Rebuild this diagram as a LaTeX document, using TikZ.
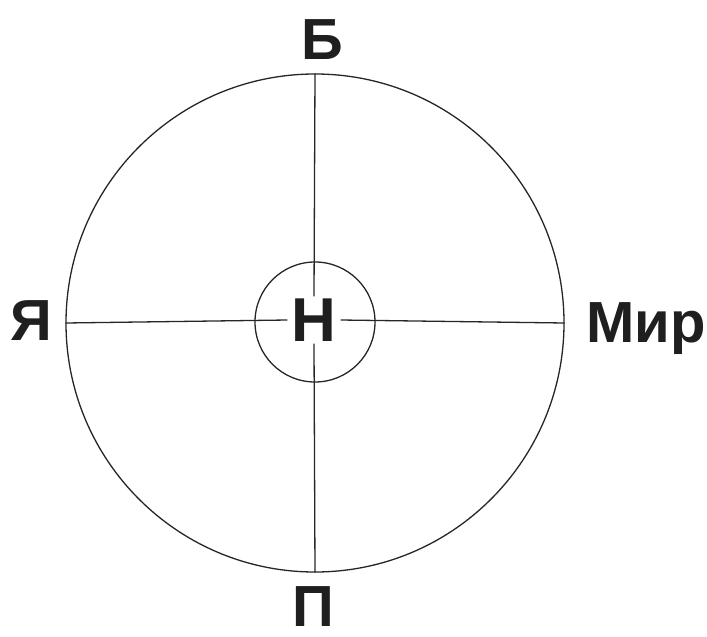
\documentclass[tikz,border=0pt]{standalone}
\usepackage{fontspec}
\setmainfont{Liberation Sans}
\begin{document}
\begin{tikzpicture}[x=1pt,y=-1pt,
  ring/.style={draw=black!85,line width=1.3pt,circle,inner sep=0pt},
  axis/.style={draw=black!85,line width=1.3pt},
  lbl/.style={font=\fontsize{58}{58}\selectfont\bfseries,text=black!88,inner sep=0pt,anchor=base}]
\useasboundingbox (0,0) rectangle (707,637);
\node[ring,minimum size=498pt] (O) at (315,323) {};
\node[ring,minimum size=120pt] (c) at (315,322) {};
\node[font=\fontsize{62}{62}\selectfont\bfseries,text=black!88,inner xsep=4pt,inner ysep=2pt] (h) at (314,320) {Н};
\draw[axis] (O.north) -- (h.north);
\draw[axis] (h.south) -- (O.south);
\draw[axis] (O.west) -- (h.west);
\draw[axis] (h.east) -- (O.east);
\node[lbl] (b) at (322,59) {Б};
\node[lbl] (ya) at (31,340) {Я};
\node[lbl,anchor=base west] (mir) at (586,342) {Мир};
\node[lbl] (p) at (313,626) {П};
\end{tikzpicture}
\end{document}
